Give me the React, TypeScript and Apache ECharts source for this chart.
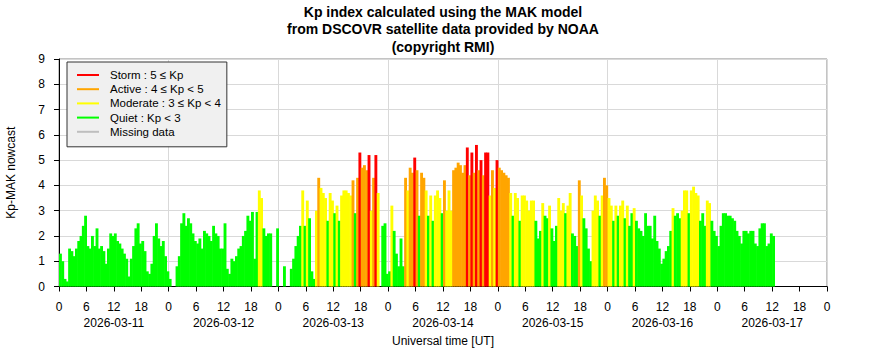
import React, { useEffect, useRef } from "react";
import * as echarts from "echarts";

// Day labels (centred under 12 UT of each day)
const dayLabels = ["2026-03-11", "2026-03-12", "2026-03-13", "2026-03-14", "2026-03-15", "2026-03-16", "2026-03-17"];

// Kp-MAK nowcast values, one per 30 minutes, starting at 00 UT of each day (null = no data)
const day11Kp = [1.3, 1.0, 0.3, 0.2, 1.5, 1.4, 1.2, 1.5, 1.8, 2.0, 2.4, 2.8, 1.6, 1.5, 2.0, 1.6, 2.3, 1.5, 1.6, 1.4, 0.9, 1.5, 2.1, 2.0, 2.1, 1.8, 1.7, 1.5, 1.3, 1.1, 0.4, 1.1, 1.6, 2.3, 2.5, 1.7, 1.8, 1.4, 0.6, 0.5, 0.9, 2.0, 2.5, 1.9, 1.6, 1.8, 1.2, 0.6];
const day12Kp = [0.3, null, null, 0.8, 1.2, 2.5, 2.9, 2.4, 2.7, 2.5, 2.1, 1.8, 1.7, 1.9, 1.5, 2.2, 2.1, 2.0, 1.8, 2.4, 2.1, 2.0, 1.5, 1.5, 2.5, 0.7, 0.5, 1.1, 1.0, 1.2, 1.5, 1.6, 2.0, 2.2, 2.8, 2.6, 2.95, 1.1, 2.95, 3.8, 3.5, 2.3, 2.0, 2.1, 2.1, null, null, 2.3];
const day13Kp = [null, null, 0.8, null, null, 0.7, 1.1, 1.6, 2.0, 2.4, 3.8, 2.4, 3.4, 2.7, 0.6, 0.3, 3.0, 4.3, 3.9, 3.7, 3.5, 2.6, 3.7, 3.4, 2.9, 3.2, 2.6, 3.6, 3.8, 3.8, 3.7, 3.6, 4.2, 2.9, 4.3, 5.3, 4.7, 4.8, 4.6, 5.2, 3.0, 4.3, 5.2, 3.7, null, 2.4, 2.5, 0.5];
const day14Kp = [0.6, 3.2, 2.2, 1.3, 0.8, 1.9, 0.8, 4.3, 3.8, 4.7, 4.5, 5.1, 4.6, 2.8, 4.5, 4.3, 3.8, 2.8, 3.6, 2.6, 3.6, 3.8, 3.5, 2.9, 4.2, 3.0, 3.8, 3.0, 4.6, 4.7, 4.9, 4.8, 4.5, 4.8, 5.5, 4.4, 5.3, 4.5, 5.6, 4.6, 5.0, 4.4, 5.3, 5.3, 3.6, 4.6, 3.9, 5.0];
const day15Kp = [4.7, 4.6, 4.5, 4.4, 4.3, 3.7, 2.8, 3.7, 3.5, 2.6, 3.6, 3.6, 3.4, 3.0, 3.4, 3.4, 2.6, 1.9, 2.2, 3.3, 2.8, 2.7, 3.2, 2.3, 1.8, 2.4, 3.5, 3.0, 3.3, 2.9, 3.2, 3.7, 2.1, 2.0, 1.6, 4.2, 3.6, 2.7, 2.3, 1.5, 1.0, 3.0, 3.6, 3.4, 2.8, 3.6, 4.3, 4.0];
const day16Kp = [3.5, 3.2, 2.6, 3.2, 2.8, 3.2, 3.4, 2.7, 3.2, 2.4, 2.9, 3.1, 2.6, 2.3, 2.2, 2.0, 2.9, 2.4, 2.4, 1.9, 2.8, 1.8, 1.5, 0.9, 1.1, 1.4, 1.6, 2.2, 3.1, 2.8, 2.9, 2.7, 3.0, 3.8, 3.8, 2.9, 3.8, 3.95, 3.7, 3.6, 2.6, 2.9, 2.4, 3.4, 3.3, 2.6, 2.2, 2.0];
const day17Kp = [1.6, 2.4, 2.9, 2.9, 2.8, 2.8, 2.7, 2.6, 2.2, 2.0, 1.7, 2.2, 2.2, 2.1, 2.2, 2.2, 1.7, 1.6, 2.3, 2.5, 2.5, 1.6, 1.7, 2.1, 2.0];

const kpDays = [day11Kp, day12Kp, day13Kp, day14Kp, day15Kp, day16Kp, day17Kp];
const binHours = 0.5;

// Activity levels (legend)
const levelNames = ["Storm : 5 ≤ Kp", "Active : 4 ≤ Kp < 5", "Moderate : 3 ≤ Kp < 4", "Quiet : Kp < 3", "Missing data"];
const levelColors = ["#ff0000", "#ffa500", "#ffff00", "#00ff00", "#bebebe"];
const levelThresholds = [5, 4, 3];

const FONT = "Liberation Sans";

function colorFor(v: number): string {
  for (let i = 0; i < levelThresholds.length; i++) {
    if (v >= levelThresholds[i]) return levelColors[i];
  }
  return levelColors[3];
}

export default function App() {
  const ref = useRef<HTMLDivElement>(null);

  useEffect(() => {
    if (!ref.current) return;
    const chart = echarts.init(ref.current, undefined, { renderer: "svg" });

    const data: any[] = [];
    kpDays.forEach((day, d) => {
      day.forEach((v, i) => {
        if (v === null) return;
        data.push([d * 24 + i * binHours, v]);
      });
    });

    const legendSeries = levelNames.map((name, i) => ({
      name,
      type: "line",
      data: [],
      color: levelColors[i],
      itemStyle: { color: levelColors[i] },
      lineStyle: { color: levelColors[i] },
      showSymbol: false,
    }));

    chart.setOption({
      animation: false,
      textStyle: { fontFamily: FONT, color: "#000" },
      title: {
        text: "Kp index calculated using the MAK model\nfrom DSCOVR satellite data provided by NOAA\n(copyright RMI)",
        left: "center",
        top: 3,
        padding: 0,
        textStyle: { fontFamily: FONT, fontSize: 14, fontWeight: "bold", lineHeight: 17.5, color: "#000" },
      },
      legend: {
        data: levelNames,
        orient: "vertical",
        left: 67,
        top: 62,
        icon: "rect",
        itemWidth: 22,
        itemHeight: 2,
        itemGap: 0.2,
        backgroundColor: "#f0f0f0",
        borderColor: "#333",
        borderWidth: 1,
        borderRadius: 0,
        padding: [6, 6, 8, 10],
        selectedMode: false,
        textStyle: { fontFamily: FONT, fontSize: 11.5, lineHeight: 14, color: "#000", padding: [0, 0, 0, 6] },
      },
      grid: {
        left: 59,
        right: 59,
        top: 59,
        bottom: 73.5,
        show: true,
        borderColor: "#888",
        borderWidth: 1,
        containLabel: false,
        outerBoundsMode: "none",
      },
      xAxis: [
        {
          type: "value",
          min: 0,
          max: 168,
          interval: 6,
          axisLine: { show: true, onZero: false, lineStyle: { color: "#000", width: 1 } },
          axisTick: { show: true, length: 5, lineStyle: { color: "#000" } },
          splitLine: { show: false },
          axisLabel: {
            fontFamily: FONT,
            fontSize: 12,
            color: "#000",
            margin: 12,
            lineHeight: 16,
            showMinLabel: true,
            showMaxLabel: true,
            formatter: (v: number) => {
              const h = Math.round(v) % 24;
              const d = Math.floor(Math.round(v) / 24);
              if (h === 12 && d < dayLabels.length) return `12\n${dayLabels[d]}`;
              return String(h);
            },
          },
          name: "Universal time [UT]",
          nameLocation: "middle",
          nameGap: 41,
          nameTextStyle: { fontFamily: FONT, fontSize: 12, color: "#000" },
        },
        {
          type: "value",
          min: 0,
          max: 168,
          interval: 24,
          position: "top",
          axisLine: { show: false },
          axisTick: { show: false },
          axisLabel: { show: false },
          splitLine: { show: true, lineStyle: { color: "#d9d9d9", width: 1 } },
        },
      ],
      yAxis: {
        type: "value",
        min: 0,
        max: 9,
        interval: 1,
        axisLine: { show: true, lineStyle: { color: "#000" } },
        axisTick: { show: true, length: 5, lineStyle: { color: "#000" } },
        axisLabel: { fontFamily: FONT, fontSize: 12, color: "#000", margin: 14 },
        splitLine: { show: true, lineStyle: { color: "#d9d9d9", width: 1 } },
        name: "Kp-MAK nowcast",
        nameLocation: "middle",
        nameGap: 42,
        nameTextStyle: { fontFamily: FONT, fontSize: 12, color: "#000" },
      },
      series: [
        {
          name: "Kp",
          type: "custom",
          xAxisIndex: 0,
          yAxisIndex: 0,
          encode: { x: 0, y: 1 },
          data,
          z: 3,
          renderItem: (params: any, api: any) => {
            const x = api.value(0);
            const v = api.value(1);
            if (isNaN(v)) return null;
            const top = api.coord([x, v]);
            const base = api.coord([x + binHours, 0]);
            return {
              type: "rect",
              shape: { x: top[0], y: top[1], width: base[0] - top[0] + 0.6, height: base[1] - top[1] },
              style: { fill: colorFor(v), stroke: null },
            };
          },
        },
        ...legendSeries,
      ],
    });

    return () => chart.dispose();
  }, []);

  return (
    <div
      ref={ref}
      style={{ position: "fixed", left: 0, top: 0, width: 886, height: 360, background: "#fff" }}
    />
  );
}
